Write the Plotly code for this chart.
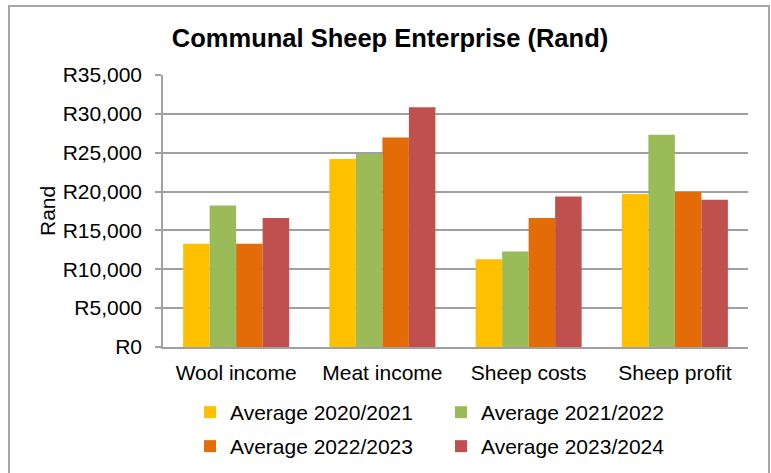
import plotly.graph_objects as go

categories = ["Wool income", "Meat income", "Sheep costs", "Sheep profit"]
series_names = ["Average 2020/2021", "Average 2021/2022", "Average 2022/2023", "Average 2023/2024"]
avg_2020_2021 = [13300, 24200, 11300, 19700]
avg_2021_2022 = [18200, 24850, 12300, 27300]
avg_2022_2023 = [13300, 26950, 16600, 19950]
avg_2023_2024 = [16600, 30850, 19350, 18950]
tick_values = [0, 5000, 10000, 15000, 20000, 25000, 30000, 35000]
tick_labels = ["R0", "R5,000", "R10,000", "R15,000", "R20,000", "R25,000", "R30,000", "R35,000"]

colors = ["#FFC000", "#9BBB59", "#E36C09", "#C0504D"]
series = [avg_2020_2021, avg_2021_2022, avg_2022_2023, avg_2023_2024]
legend_ids = ["legend", "legend", "legend2", "legend2"]

FONT = "Liberation Sans, Arial, sans-serif"

fig = go.Figure()
for name, vals, col, lg in zip(series_names, series, colors, legend_ids):
    fig.add_trace(go.Bar(x=categories, y=vals, name=name, legend=lg,
                         marker=dict(color=col, line=dict(width=0))))

W, H = 771, 473
L, R, T, B = 163, 23, 75, 126
pw, ph = W - L - R, H - T - B

def px_x(x):
    return (x - L) / pw

def px_y(y):
    return (H - B - y) / ph

legend_common = dict(orientation="h", xanchor="left", yanchor="top",
                     font=dict(size=21), entrywidth=206, entrywidthmode="pixels",
                     traceorder="normal", bgcolor="rgba(0,0,0,0)")

fig.update_layout(
    width=W, height=H,
    margin=dict(l=L, r=R, t=T, b=B, autoexpand=False),
    paper_bgcolor="white", plot_bgcolor="white",
    barmode="group", bargap=0.275, bargroupgap=0,
    font=dict(family=FONT, size=21, color="#000000"),
    title=dict(text="<b>Communal Sheep Enterprise (Rand)</b>", x=390 / W, xanchor="center",
               y=1 - 38 / H, yanchor="middle", xref="container", yref="container",
               font=dict(family=FONT, size=25.5, color="#000000")),
    xaxis=dict(showgrid=False, showline=True, linecolor="#A0A0A0", linewidth=1.5,
               ticks="outside", ticklen=6, tickcolor="rgba(0,0,0,0)",
               tickfont=dict(size=21), automargin=False),
    yaxis=dict(range=[0, 35000], tickvals=tick_values, ticktext=tick_labels,
               showgrid=True, gridcolor="#A0A0A0", gridwidth=1.5,
               showline=True, linecolor="#A0A0A0", linewidth=1.5,
               ticks="outside", ticklen=15, tickcolor="rgba(0,0,0,0)",
               minor=dict(tickvals=tick_values, ticks="outside", ticklen=6,
                          tickcolor="#A0A0A0", tickwidth=1.5, showgrid=False),
               tickfont=dict(size=21), zeroline=False, automargin=False),
    legend=dict(x=px_x(190), y=px_y(392), **legend_common),
    legend2=dict(x=px_x(190), y=px_y(426), **legend_common),
    annotations=[dict(text="Rand", x=px_x(47), y=0.5, xref="paper", yref="paper",
                      textangle=-90, showarrow=False, font=dict(size=21),
                      xanchor="center", yanchor="middle")],
    shapes=[dict(type="rect", xref="paper", yref="paper",
                 x0=px_x(9), x1=px_x(769), y0=px_y(490), y1=px_y(6),
                 line=dict(color="#A6A6A6", width=2), fillcolor="rgba(0,0,0,0)", layer="below")],
)

fig.write_html("out.html", config={"displayModeBar": False},
               post_script="document.body.style.margin='0px';")
